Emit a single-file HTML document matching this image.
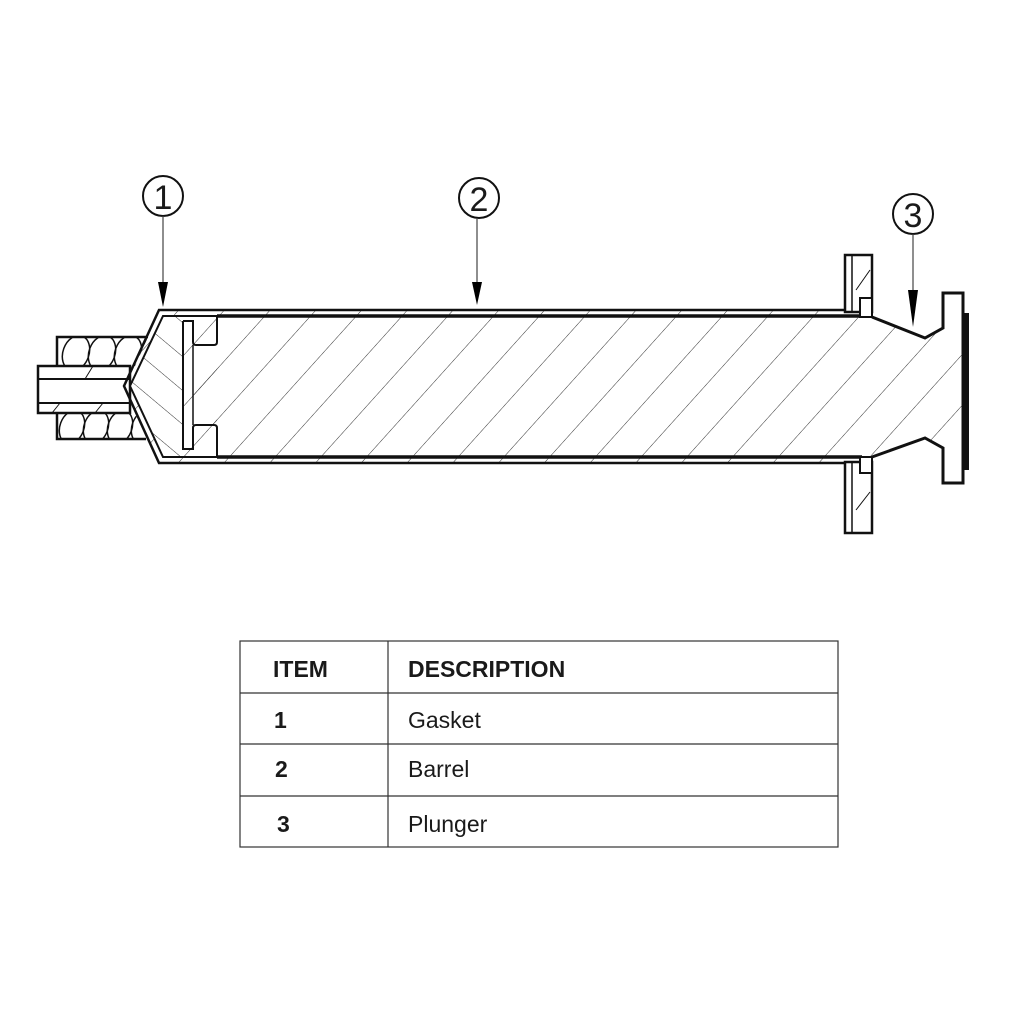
<!DOCTYPE html>
<html><head><meta charset="utf-8"><style>
html,body{margin:0;padding:0;background:#fff;}
svg{display:block}
text{font-family:"Liberation Sans",sans-serif;fill:#1a1a1a}
</style></head><body>
<svg width="1024" height="1024" viewBox="0 0 1024 1024" xmlns="http://www.w3.org/2000/svg">
<defs>
<pattern id="h1" width="34" height="34" patternUnits="userSpaceOnUse" patternTransform="rotate(42)">
<line x1="0" y1="0" x2="0" y2="34" stroke="#333" stroke-width="1"/></pattern>
<pattern id="h2" width="26" height="26" patternUnits="userSpaceOnUse" patternTransform="rotate(-50)">
<line x1="0" y1="0" x2="0" y2="26" stroke="#333" stroke-width="1"/></pattern>
<clipPath id="topc"><path d="M57,337 H148 L135,366 H57 Z"/></clipPath>
<clipPath id="botc"><path d="M57,413 H135 L146,439 H57 Z"/></clipPath>
</defs>
<rect width="1024" height="1024" fill="#fff"/>

<!-- coils -->
<g stroke="#111" stroke-width="1.5" fill="none">
<g clip-path="url(#topc)">
<ellipse cx="76" cy="353" rx="13" ry="18" transform="rotate(20 76 353)"/>
<ellipse cx="102" cy="353" rx="13" ry="18" transform="rotate(20 102 353)"/>
<ellipse cx="128" cy="353" rx="13" ry="18" transform="rotate(20 128 353)"/>
<ellipse cx="154" cy="353" rx="13" ry="18" transform="rotate(20 154 353)"/>
</g>
<g clip-path="url(#botc)">
<ellipse cx="72" cy="427" rx="12" ry="17" transform="rotate(20 72 427)"/>
<ellipse cx="96" cy="427" rx="12" ry="17" transform="rotate(20 96 427)"/>
<ellipse cx="120" cy="427" rx="12" ry="17" transform="rotate(20 120 427)"/>
<ellipse cx="144" cy="427" rx="12" ry="17" transform="rotate(20 144 427)"/>
</g>
<polyline points="148,337 57,337 57,366" stroke-width="2.5"/>
<polyline points="57,413 57,439 146,439" stroke-width="2.5"/>
<!-- tube -->
<rect x="38" y="366" width="92" height="47" fill="#fff" stroke-width="2.5"/>
<line x1="38" y1="379" x2="130" y2="379" stroke-width="2"/>
<line x1="38" y1="403" x2="130" y2="403" stroke-width="2"/>
<line x1="85" y1="379" x2="93" y2="366" stroke-width="1"/>
<line x1="52" y1="413" x2="60" y2="403" stroke-width="1"/>
<line x1="95" y1="413" x2="103" y2="403" stroke-width="1"/>
</g>

<!-- barrel wall -->
<path d="M159,310 L862,310 L862,463 L159,463 L124,386 Z" fill="url(#h1)" stroke="none"/>
<path d="M217,316 L872,316 L925,338 L943,328 L943,448 L925,438 L872,457 L217,457 Z" fill="#fff"/>
<path d="M217,316 L872,316 L925,338 L943,328 L943,448 L925,438 L872,457 L217,457 Z" fill="url(#h1)"/>
<path d="M163,316 L183,316 L183,457 L163,457 L130,386 Z" fill="#fff"/>
<path d="M163,316 L183,316 L183,457 L163,457 L130,386 Z" fill="url(#h2)"/>
<path d="M193,345 L217,345 L217,425 L193,425 Z" fill="url(#h1)"/>

<g fill="none" stroke="#111" stroke-linejoin="miter">
<path d="M862,310 L159,310 L124,386 L159,463 L862,463" stroke-width="2.5"/>
<path d="M217,316 L163,316 L130,386 L163,457 L217,457" stroke-width="2"/>
<line x1="217" y1="316" x2="862" y2="316" stroke-width="3.5"/>
<line x1="217" y1="457" x2="862" y2="457" stroke-width="3.5"/>
<path d="M183,321 L183,449 L193,449 L193,428 Q193,425 196,425 L214,425 Q217,425 217,428 L217,457" stroke-width="2"/>
<path d="M183,321 L193,321 L193,342 Q193,345 196,345 L214,345 Q217,345 217,342 L217,316" stroke-width="2"/>
<line x1="193" y1="345" x2="193" y2="425" stroke-width="1.5"/>
<rect x="845" y="255" width="27" height="57" fill="#fff" stroke-width="2.5"/>
<line x1="852" y1="255" x2="852" y2="312" stroke-width="1.5"/>
<line x1="856" y1="290" x2="870" y2="270" stroke-width="1"/>
<rect x="860" y="298" width="12" height="19" fill="#fff" stroke-width="2"/>
<rect x="845" y="462" width="27" height="71" fill="#fff" stroke-width="2.5"/>
<line x1="852" y1="462" x2="852" y2="533" stroke-width="1.5"/>
<line x1="856" y1="510" x2="870" y2="492" stroke-width="1"/>
<rect x="860" y="457" width="12" height="16" fill="#fff" stroke-width="2"/>
<path d="M872,317 L925,338 L943,328 L943,293 L963,293 L963,483 L943,483 L943,448 L925,438 L872,457" stroke-width="3"/>
</g>
<rect x="962" y="313" width="7" height="157" fill="#111"/>
<path d="M943,328 L962,328 L962,448 L943,448 Z" fill="url(#h1)"/>

<!-- callouts -->
<g stroke="#111" fill="none" stroke-width="2">
<circle cx="163" cy="196" r="20"/>
<circle cx="479" cy="198" r="20"/>
<circle cx="913" cy="214" r="20"/>
</g>
<g stroke="#444" stroke-width="1.2">
<line x1="163" y1="216" x2="163" y2="290"/>
<line x1="477" y1="218" x2="477" y2="290"/>
<line x1="913" y1="234" x2="913" y2="310"/>
</g>
<g fill="#000">
<polygon points="158,282 168,282 163,307"/>
<polygon points="472,282 482,282 477,305"/>
<polygon points="908,290 918,290 913,327"/>
</g>
<text x="163" y="209" font-size="34" text-anchor="middle">1</text>
<text x="479" y="211" font-size="34" text-anchor="middle">2</text>
<text x="913" y="227" font-size="34" text-anchor="middle">3</text>

<!-- table -->
<g stroke="#333" stroke-width="1.2" fill="none">
<rect x="240" y="641" width="598" height="206"/>
<line x1="388" y1="641" x2="388" y2="847"/>
<line x1="240" y1="693" x2="838" y2="693"/>
<line x1="240" y1="744" x2="838" y2="744"/>
<line x1="240" y1="796" x2="838" y2="796"/>
</g>
<g font-size="23">
<text x="273" y="677" font-weight="bold">ITEM</text>
<text x="408" y="677" font-weight="bold">DESCRIPTION</text>
<text x="274" y="728" font-weight="bold">1</text>
<text x="275" y="777" font-weight="bold">2</text>
<text x="277" y="832" font-weight="bold">3</text>
<text x="408" y="728">Gasket</text>
<text x="408" y="777">Barrel</text>
<text x="408" y="832">Plunger</text>
</g>
</svg>
</body></html>
